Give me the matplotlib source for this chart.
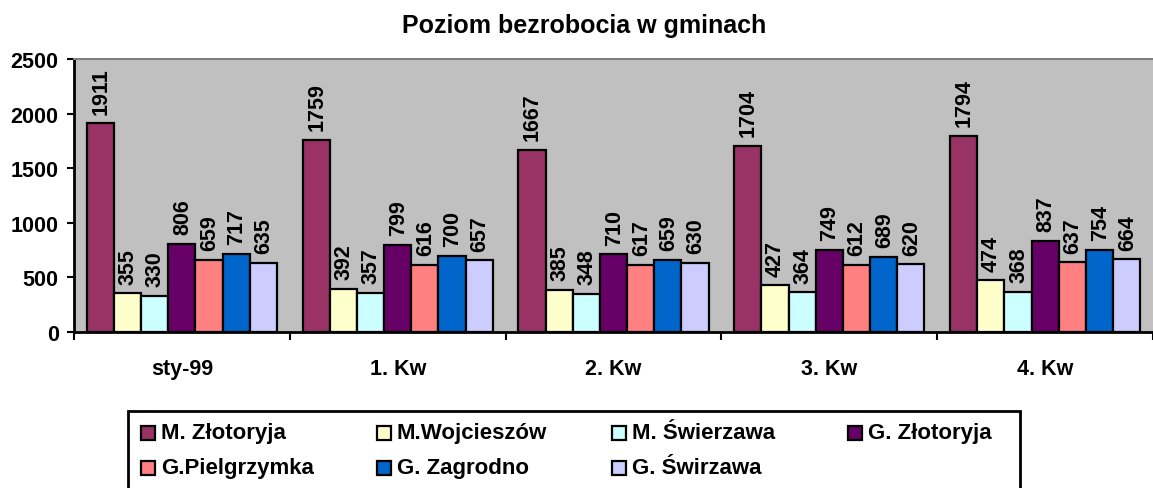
import matplotlib
matplotlib.use("Agg")
import matplotlib.pyplot as plt
from matplotlib.patches import Rectangle
import numpy as np

plt.rcParams['font.family'] = ['Liberation Sans', 'DejaVu Sans']
plt.rcParams['font.weight'] = 'bold'

# data
categories = ["sty-99", "1. Kw", "2. Kw", "3. Kw", "4. Kw"]
series_names = ["M. Złotoryja", "M.Wojcieszów", "M. Świerzawa", "G. Złotoryja",
                "G.Pielgrzymka", "G. Zagrodno", "G. Świrzawa"]
m_zlotoryja = [1911, 1759, 1667, 1704, 1794]
m_wojcieszow = [355, 392, 385, 427, 474]
m_swierzawa = [330, 357, 348, 364, 368]
g_zlotoryja = [806, 799, 710, 749, 837]
g_pielgrzymka = [659, 616, 617, 612, 637]
g_zagrodno = [717, 700, 659, 689, 754]
g_swirzawa = [635, 657, 630, 620, 664]
colors = ["#993366", "#FFFFCC", "#CCFFFF", "#660066", "#FF8080", "#0066CC", "#CCCCFF"]

values = [m_zlotoryja, m_wojcieszow, m_swierzawa, g_zlotoryja,
          g_pielgrzymka, g_zagrodno, g_swirzawa]

fig = plt.figure(figsize=(11.53, 4.89), dpi=100)
ax = fig.add_axes([74 / 1153, 1 - 333 / 489, 1 - 74 / 1153, (333 - 60) / 489])
ax.set_facecolor("#C0C0C0")

x = np.arange(len(categories))
bar_w = 0.126
n = len(values)
for i, vals in enumerate(values):
    pos = x + (i - (n - 1) / 2) * bar_w
    bars = ax.bar(pos, vals, width=bar_w, color=colors[i], edgecolor="black",
                  linewidth=1.6, zorder=3)
    for b, v in zip(bars, vals):
        ax.annotate(str(v), (b.get_x() + b.get_width() / 2, v),
                    xytext=(0.5, 7), textcoords="offset points",
                    ha="center", va="bottom", rotation=90,
                    fontsize=15.5, fontweight="bold", zorder=4)

ax.set_ylim(0, 2500)
ax.set_yticks([0, 500, 1000, 1500, 2000, 2500])
ax.set_xlim(-0.5, -0.5 + 1079 / 218)

# group boundaries as major ticks, names on minor ticks
ax.set_xticks(np.arange(-0.5, len(categories), 1.0))
ax.set_xticklabels([])
ax.set_xticks(x, minor=True)
ax.set_xticklabels(categories, minor=True)
ax.tick_params(axis="x", which="minor", length=0, pad=19, labelsize=15.5)
ax.tick_params(axis="x", which="major", length=6, width=1.5, direction="out")
ax.tick_params(axis="y", length=5, width=1.5, pad=6, labelsize=15.5)
for lab in ax.get_yticklabels() + ax.get_xticklabels(minor=True):
    lab.set_fontweight("bold")

ax.spines["left"].set_linewidth(2)
ax.spines["bottom"].set_linewidth(2)
ax.spines["top"].set_color("#808080")
ax.spines["top"].set_linewidth(1.5)
ax.spines["right"].set_visible(False)

fig.text(584 / 1153, 1 - 26 / 489, "Poziom bezrobocia w gminach",
         ha="center", va="center", fontsize=18, fontweight="bold")

# legend box, runs off the bottom of the image
fig.patches.append(Rectangle((128 / 1153, -0.05), (1020 - 128) / 1153,
                             1 - 412 / 489 + 0.05, transform=fig.transFigure,
                             facecolor="white", edgecolor="black", linewidth=2))
col_x = [141, 377, 612, 848]
row_y = [434, 469]
for i, name in enumerate(series_names):
    cx = col_x[i % 4]
    cy = row_y[i // 4]
    fig.patches.append(Rectangle((cx / 1153, 1 - (cy + 7) / 489), 14 / 1153, 14 / 489,
                                 transform=fig.transFigure, facecolor=colors[i],
                                 edgecolor="black", linewidth=1.6))
    fig.text((cx + 20) / 1153, 1 - cy / 489, name, ha="left", va="center",
             fontsize=16, fontweight="bold")

fig.savefig("out.png", dpi=100)
